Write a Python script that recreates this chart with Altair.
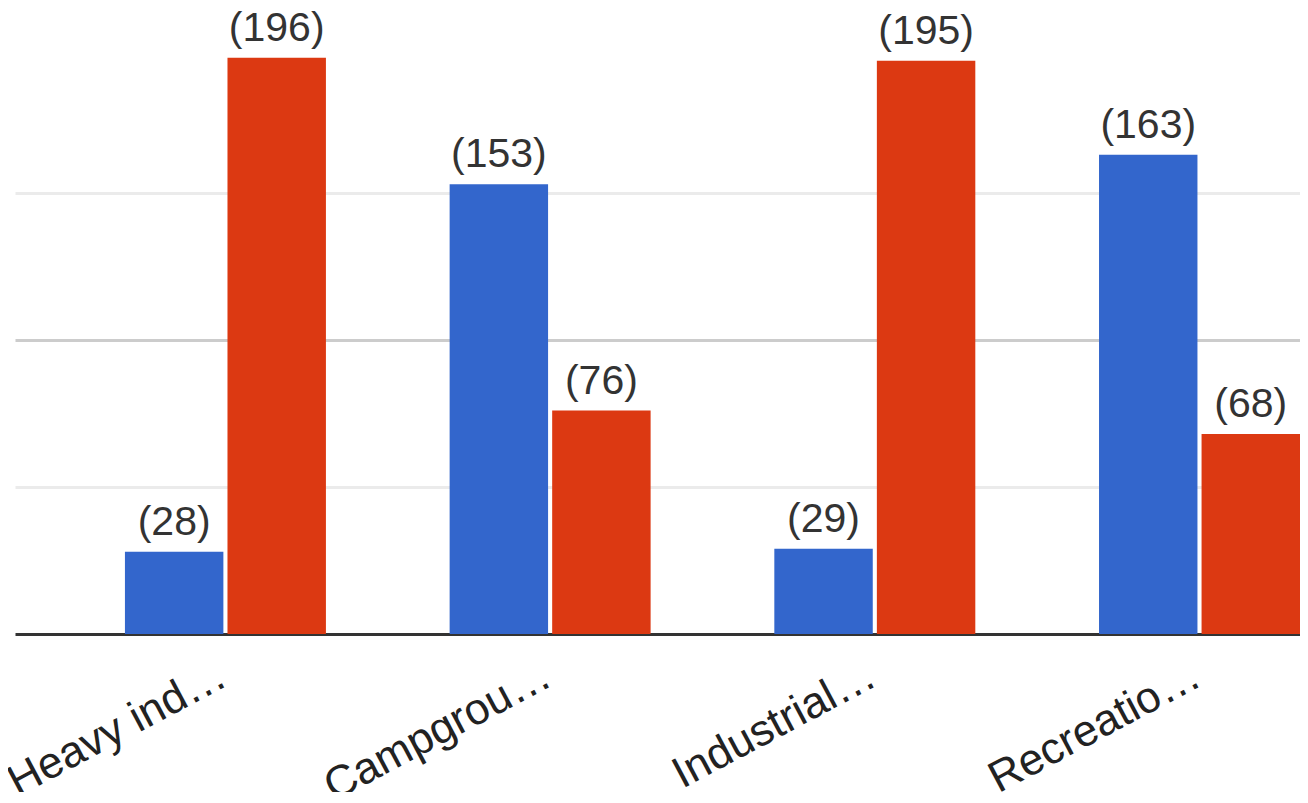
import altair as alt
import pandas as pd

# ---- data ----
categories = ["Heavy ind…", "Campgrou…", "Industrial…", "Recreatio…"]
series_names = ["Series A", "Series B"]
series_a = [28, 153, 29, 163]
series_b = [196, 76, 195, 68]
series_colors = ["#3366cc", "#dc3912"]
grid_values = [50, 100, 150]

rows = []
for i, c in enumerate(categories):
    rows.append({"category": c, "series": series_names[0], "value": series_a[i]})
    rows.append({"category": c, "series": series_names[1], "value": series_b[i]})
df = pd.DataFrame(rows)
df["label"] = "(" + df["value"].astype(str) + ")"

FONT = "Liberation Sans"

x = alt.X(
    "category:N",
    sort=categories,
    title=None,
    scale=alt.Scale(paddingInner=0.381, paddingOuter=0.1693, align=1, round=False),
    axis=alt.Axis(
        labelAngle=-28,
        labelAlign="right",
        labelBaseline="alphabetic",
        labelPadding=50,
        labelOffset=4,
        labelLimit=600,
        ticks=False,
        grid=False,
        domainColor="#333333",
        domainWidth=3,
        labelFontSize=44,
        labelColor="#222222",
        labelFont=FONT,
    ),
)
xoff = alt.XOffset(
    "series:N",
    sort=series_names,
    scale=alt.Scale(paddingInner=0.04, paddingOuter=0),
)
y = alt.Y(
    "value:Q",
    title=None,
    scale=alt.Scale(domain=[0, 200], nice=False, zero=True),
    axis=alt.Axis(
        values=grid_values,
        labels=False,
        ticks=False,
        domain=False,
        grid=True,
        gridWidth=3,
        gridColor={"condition": {"test": "datum.value === 100", "value": "#cccccc"}, "value": "#ebebeb"},
    ),
)

bars = alt.Chart(df).mark_bar().encode(
    x=x,
    xOffset=xoff,
    y=y,
    color=alt.Color(
        "series:N",
        scale=alt.Scale(domain=series_names, range=series_colors),
        legend=None,
    ),
)

labels = alt.Chart(df).mark_text(
    dy=-17,
    baseline="alphabetic",
    align="center",
    fontSize=41,
    color="#333333",
    font=FONT,
).encode(
    x=x,
    xOffset=xoff,
    y=alt.Y("value:Q"),
    text="label:N",
)

chart = (
    alt.layer(bars, labels)
    .properties(
        width=1285,
        height=588,
        padding={"left": 7, "top": 38, "right": 0, "bottom": 158},
        autosize=alt.AutoSizeParams(type="none"),
    )
    .configure_view(stroke=None)
)

chart.save("out.html", embed_options={"renderer": "svg", "actions": False})
